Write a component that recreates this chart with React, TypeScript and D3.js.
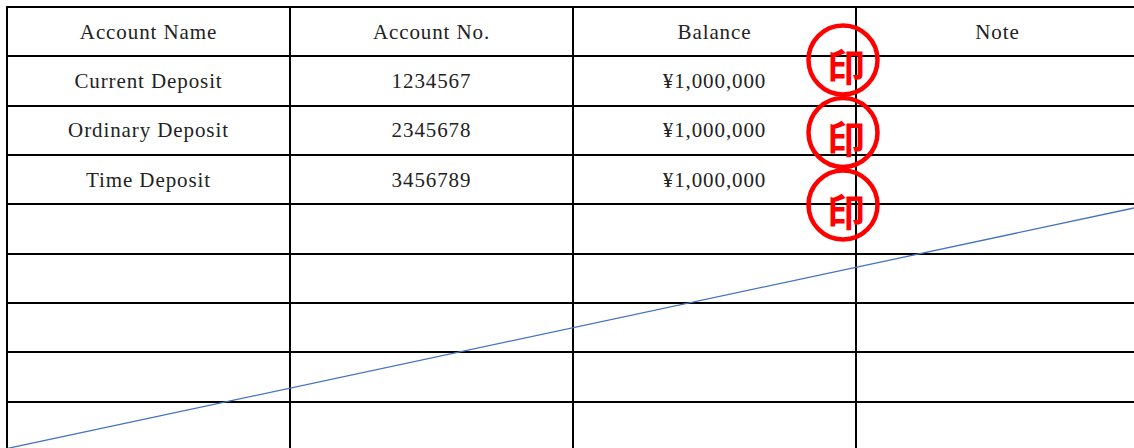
import * as d3 from "d3";
import { useEffect, useRef } from "react";

const columns = ["Account Name", "Account No.", "Balance", "Note"];
const accountNames = ["Current Deposit", "Ordinary Deposit", "Time Deposit"];
const accountNumbers = ["1234567", "2345678", "3456789"];
const balances = [1000000, 1000000, 1000000];
const emptyRows = 5;
const stampLabel = "印";

const W = 1134;
const H = 448;

const App: React.FC = () => {
  const ref = useRef<SVGSVGElement | null>(null);

  useEffect(() => {
    const svg = d3.select(ref.current).attr("width", W).attr("height", H);
    svg.selectAll("*").remove();

    const rowCount = 1 + accountNames.length + emptyRows;
    const rowIds = d3.range(rowCount + 1).map(String);

    const x = d3
      .scaleBand()
      .domain(columns)
      .range([7, 7 + 283 * columns.length])
      .padding(0);

    const y = d3
      .scaleBand()
      .domain(rowIds)
      .range([7, 7 + 49.35 * (rowCount + 1)])
      .padding(0);

    const left = x.range()[0];
    const right = x.range()[1];
    const top = y.range()[0];
    const bottom = y.range()[1];

    // horizontal rules
    svg
      .append("g")
      .selectAll("line")
      .data(rowIds)
      .join("line")
      .attr("x1", left - 1)
      .attr("x2", right)
      .attr("y1", (d) => Math.round(y(d)!))
      .attr("y2", (d) => Math.round(y(d)!))
      .attr("stroke", "#000")
      .attr("stroke-width", 2);

    // vertical rules
    svg
      .append("g")
      .selectAll("line")
      .data(columns)
      .join("line")
      .attr("x1", (d) => Math.round(x(d)!))
      .attr("x2", (d) => Math.round(x(d)!))
      .attr("y1", top - 1)
      .attr("y2", bottom)
      .attr("stroke", "#000")
      .attr("stroke-width", 2);

    const font = "'Liberation Serif', 'Times New Roman', serif";
    const fmt = (v: number) => "¥" + d3.format(",")(v);

    const cells: { col: string; row: string; text: string }[] = [];
    columns.forEach((c) => cells.push({ col: c, row: "0", text: c }));
    accountNames.forEach((n, i) => {
      const r = String(i + 1);
      cells.push({ col: columns[0], row: r, text: n });
      cells.push({ col: columns[1], row: r, text: accountNumbers[i] });
      cells.push({ col: columns[2], row: r, text: fmt(balances[i]) });
    });

    svg
      .append("g")
      .selectAll("text")
      .data(cells)
      .join("text")
      .attr("x", (d) => x(d.col)! + x.bandwidth() / 2)
      .attr("y", (d) => y(d.row)! + y.bandwidth() / 2)
      .attr("text-anchor", "middle")
      .attr("dominant-baseline", "central")
      .attr("font-family", font)
      .attr("font-size", 21)
      .attr("letter-spacing", 0.9)
      .attr("fill", "#222")
      .text((d) => d.text);

    // diagonal strike line
    const lx = d3.scaleLinear().domain([0, 1]).range([0, W]);
    const ly = d3.scaleLinear().domain([0, 1]).range([450, 208]);
    const line = d3
      .line<number>()
      .x((t) => lx(t))
      .y((t) => ly(t));
    svg
      .append("path")
      .attr("d", line([0, 1]))
      .attr("fill", "none")
      .attr("stroke", "#4472C4")
      .attr("stroke-width", 1.3);

    // seal stamps
    const sx = x(columns[3])! - 13;
    const sy = d3.scaleLinear().domain([0, 1]).range([60, 132.5]);
    const stamps = svg
      .append("g")
      .selectAll("g")
      .data(accountNames.map((_, i) => i))
      .join("g")
      .attr("transform", (i) => `translate(${sx},${sy(i)})`);
    stamps
      .append("circle")
      .attr("r", 34.5)
      .attr("fill", "none")
      .attr("stroke", "#ff0000")
      .attr("stroke-width", 4.5);
    stamps
      .append("text")
      .attr("x", 3)
      .attr("y", 4)
      .attr("text-anchor", "middle")
      .attr("dominant-baseline", "central")
      .attr("font-family", "'Noto Sans CJK JP', sans-serif")
      .attr("font-weight", 700)
      .attr("font-size", 38)
      .attr("fill", "#ff0000")
      .text(stampLabel);
  }, []);

  return (
    <svg
      ref={ref}
      style={{ position: "absolute", left: 0, top: 0, background: "#fff" }}
    ></svg>
  );
};

export default App;
